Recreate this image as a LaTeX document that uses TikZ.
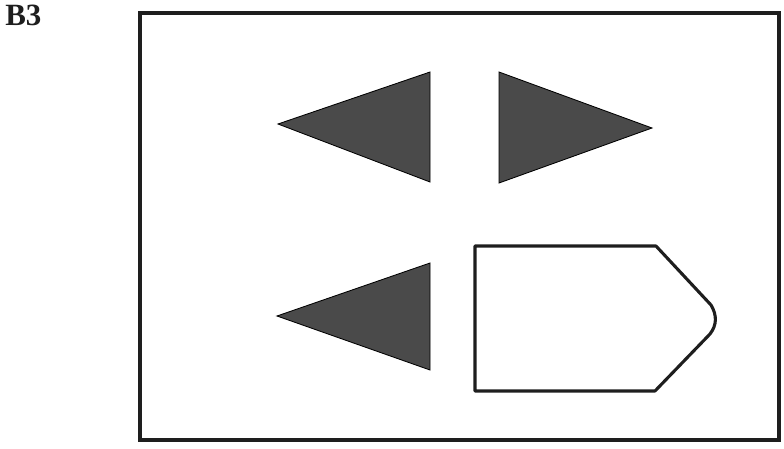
\documentclass[tikz,border=0pt]{standalone}
\usepackage{fontspec}
\setmainfont{Liberation Serif}
\usetikzlibrary{positioning}
\definecolor{ink}{RGB}{30,30,30}
\definecolor{shade}{RGB}{74,74,74}

\begin{document}
\begin{tikzpicture}[x=0.025cm, y=-0.025cm,
  frame/.style={draw=ink, line width=2.2pt},
  wedge/.style={fill=shade, draw=black, line width=0.6pt, line join=miter},
  tag/.style={draw=ink, line width=2.2pt, line join=round},
  lab/.style={font=\fontsize{22}{24}\selectfont\bfseries, text=ink, inner sep=0pt, anchor=north west}]
\useasboundingbox (0,0) rectangle (784,448);
\node[lab] (b3) at (5,5) {B3};
\draw[frame] (140,13) rectangle (779,440);
% three filled wedges
\draw[wedge] (278,124) -- (430,72) -- (430,182) -- cycle;
\draw[wedge] (652,128) -- (499,72) -- (499,183) -- cycle;
\draw[wedge] (277,316) -- (430,263) -- (430,370) -- cycle;
% open pointed box
\draw[tag] (475,246) -- (656,246) -- (711,305) .. controls (717,315) and (717,325) .. (710,334) -- (655,391) -- (475,391) -- cycle;
\end{tikzpicture}
\end{document}
